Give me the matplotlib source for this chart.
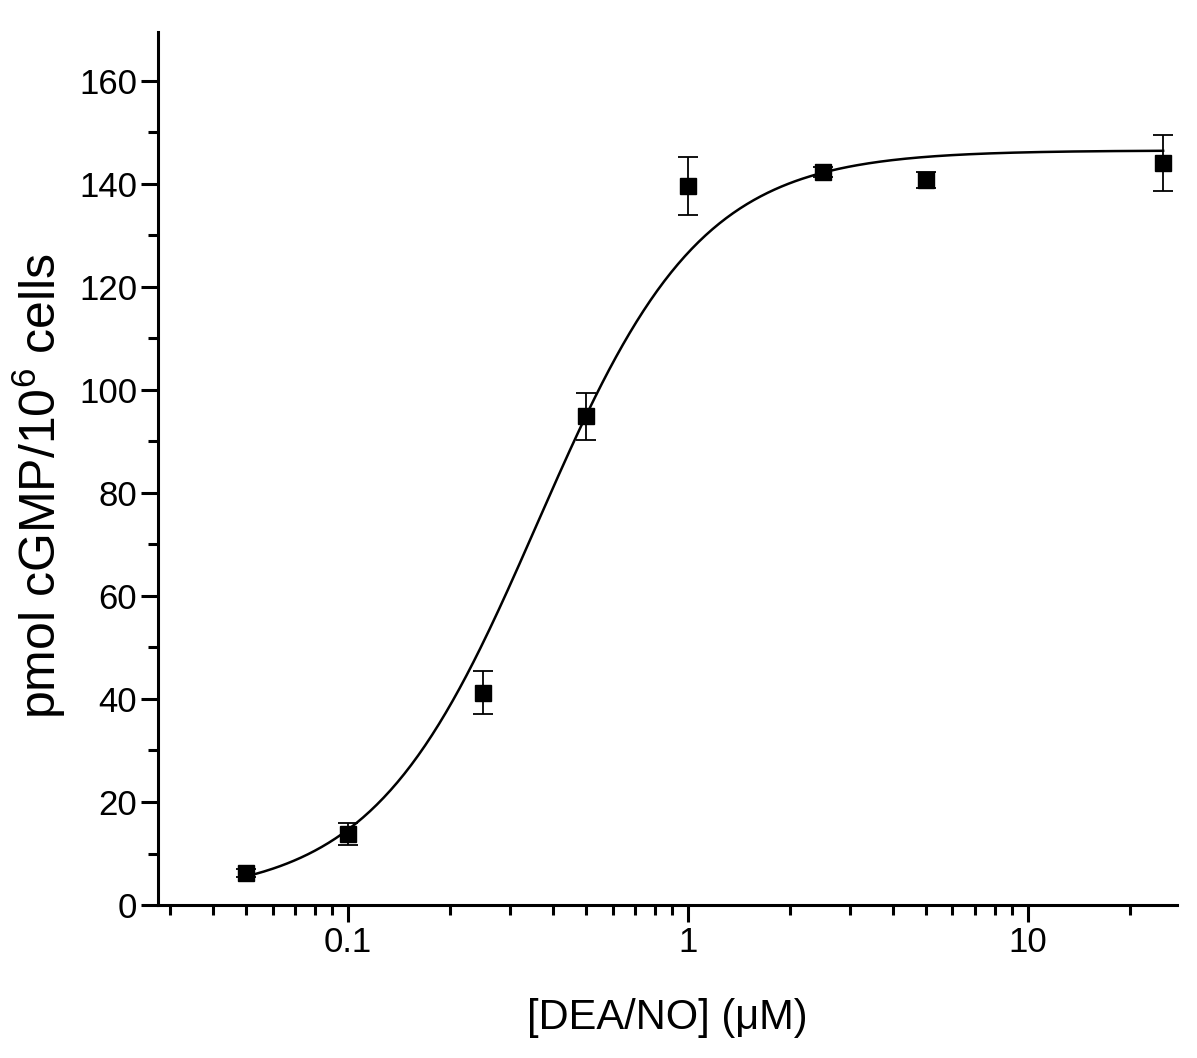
import numpy as np
import matplotlib
matplotlib.use("Agg")
import matplotlib.pyplot as plt
from matplotlib.ticker import LogLocator, FixedLocator, MultipleLocator, FuncFormatter

plt.rcParams['font.family'] = ['Liberation Sans', 'DejaVu Sans']
plt.rcParams['mathtext.fontset'] = 'custom'
plt.rcParams['mathtext.rm'] = 'Liberation Sans'
plt.rcParams['mathtext.it'] = 'Liberation Sans:italic'

# Data
conc = [0.05, 0.1, 0.25, 0.5, 1.0, 2.5, 5.0, 25.0]
cgmp = [6.2, 13.8, 41.2, 94.9, 139.6, 142.3, 140.8, 144.0]
cgmp_err = [0.8, 2.1, 4.2, 4.6, 5.7, 1.0, 1.6, 5.4]

# Fitted Hill (logistic) curve parameters
fit_bottom = 1.5
fit_top = 146.5
fit_ec50 = 0.36
fit_hill = 1.8

xticks = [0.1, 1, 10]
xtick_labels = ["0.1", "1", "10"]
yticks = [0, 20, 40, 60, 80, 100, 120, 140, 160]

fig = plt.figure(figsize=(11.97, 10.58), dpi=100)
ax = fig.add_axes([0.132, 0.1446, 0.851, 0.8252])

xf = np.logspace(np.log10(conc[0]), np.log10(conc[-1]), 400)
yf = fit_bottom + (fit_top - fit_bottom) / (1 + (fit_ec50 / xf) ** fit_hill)
ax.plot(xf, yf, color='black', lw=1.8, zorder=2)

ax.errorbar(conc, cgmp, yerr=cgmp_err, fmt='s', color='black', ms=11,
            ecolor='black', elinewidth=1.3, capsize=7, capthick=1.3, zorder=3)

ax.set_xscale('log')
ax.set_xlim(0.0276, 27.4)
ax.set_ylim(0, 169.5)

ax.xaxis.set_major_locator(FixedLocator(xticks))
ax.xaxis.set_major_formatter(FuncFormatter(lambda v, p: xtick_labels[xticks.index(v)] if v in xticks else ""))
ax.xaxis.set_minor_locator(LogLocator(base=10, subs=np.arange(2, 10)))
ax.xaxis.set_minor_formatter(FuncFormatter(lambda v, p: ""))
ax.yaxis.set_major_locator(FixedLocator(yticks))
ax.yaxis.set_minor_locator(MultipleLocator(10))

for s in ['top', 'right']:
    ax.spines[s].set_visible(False)
for s in ['left', 'bottom']:
    ax.spines[s].set_linewidth(2.2)

ax.tick_params(axis='both', which='major', direction='out', length=12, width=2.2, labelsize=25, pad=3)
ax.tick_params(axis='both', which='minor', direction='out', length=7, width=2.2)

ax.set_xlabel('[DEA/NO] (μM)', fontsize=30, labelpad=28)
ax.set_ylabel('pmol cGMP/10$^{\\mathregular{6}}$ cells', fontsize=36)
ax.yaxis.set_label_coords(-0.088, 0.48)

fig.savefig('out.png', dpi=100, facecolor='white')
